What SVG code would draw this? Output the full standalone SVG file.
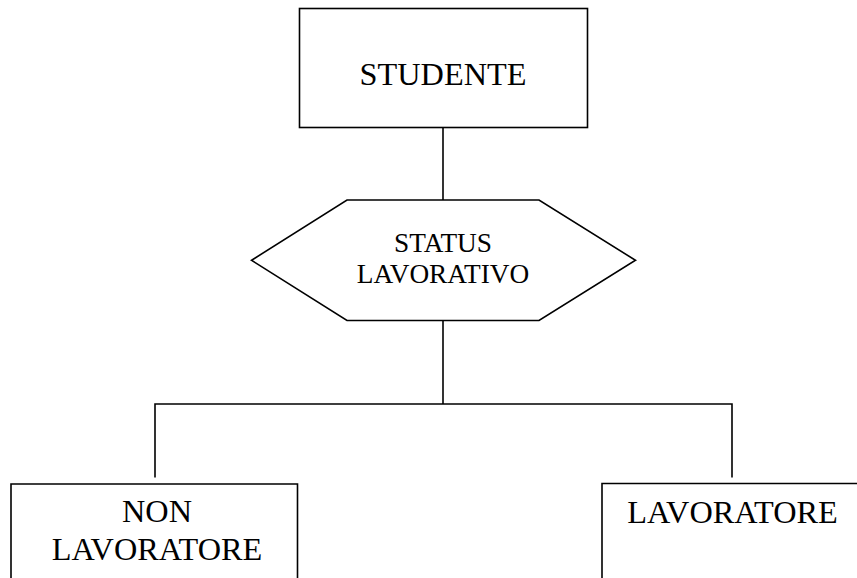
<svg xmlns="http://www.w3.org/2000/svg" width="857" height="578" viewBox="0 0 857 578">
  <style>
    .shape { fill: #ffffff; stroke: #000000; stroke-width: 1.6; }
    .wire { fill: none; stroke: #000000; stroke-width: 1.6; }
    .label { font-family: "Liberation Serif", "Times New Roman", serif; fill: #000000; text-anchor: middle; }
    .big { font-size: 32.3px; }
    .small { font-size: 27.3px; }
  </style>
  <rect width="857" height="578" fill="#ffffff"/>

  <g id="connectors">
    <line class="wire" x1="443" y1="127.5" x2="443" y2="200"/>
    <line class="wire" x1="443" y1="320.5" x2="443" y2="404"/>
    <polyline class="wire" points="155,477.5 155,404 732,404 732,477.5"/>
  </g>

  <g id="studente">
    <rect class="shape" x="299.5" y="8.5" width="288" height="119"/>
    <text class="label big" x="443" y="85">STUDENTE</text>
  </g>

  <g id="status-lavorativo">
    <polygon class="shape" points="347,200 539,200 635.5,260.3 539,320.5 347,320.5 251.5,260.3"/>
    <text class="label small" x="443" y="251.5">STATUS</text>
    <text class="label small" x="443" y="283.3">LAVORATIVO</text>
  </g>

  <g id="non-lavoratore">
    <polyline class="shape" points="11,580 11,484 297.5,484 297.5,580"/>
    <text class="label big" x="157" y="521.5">NON</text>
    <text class="label big" x="157" y="560">LAVORATORE</text>
  </g>

  <g id="lavoratore">
    <polyline class="shape" points="602,580 602,483.5 860,483.5"/>
    <text class="label big" x="732.5" y="523.3">LAVORATORE</text>
  </g>
</svg>
